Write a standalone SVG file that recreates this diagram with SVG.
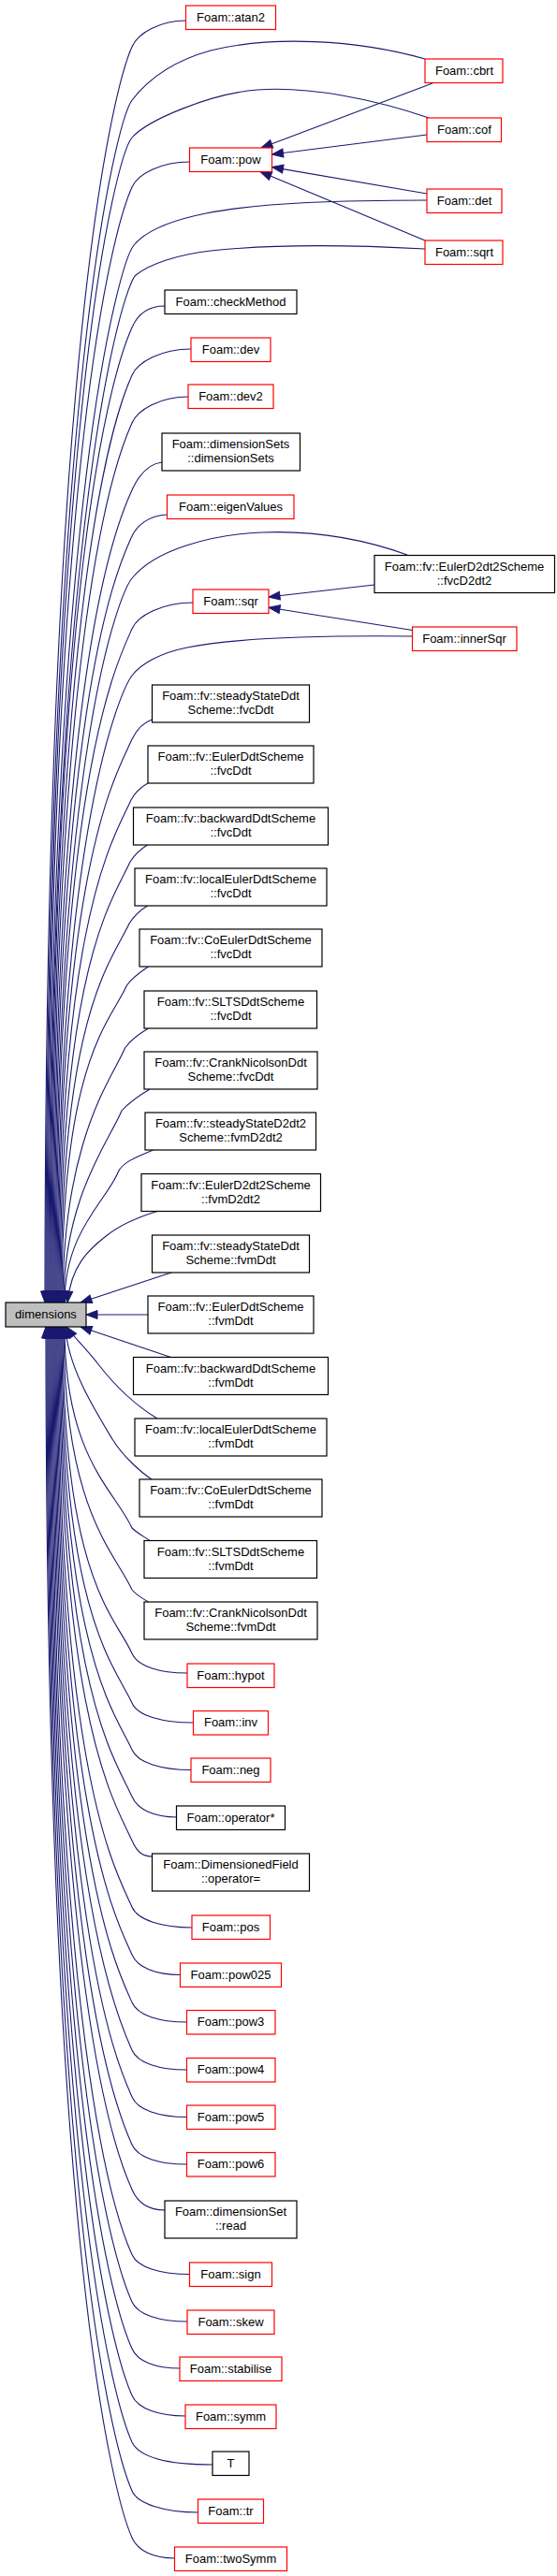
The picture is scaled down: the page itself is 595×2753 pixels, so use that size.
<svg xmlns="http://www.w3.org/2000/svg" width="595" height="2753" viewBox="0 0 595 2753">
<style>
.n rect{fill:#fff;stroke-width:1.2}
.r rect{stroke:#ff0000}
.b rect{stroke:#000}
.m rect{fill:#bfbfbf;stroke:#000}
text{font-family:"Liberation Sans",Arial,Helvetica,sans-serif;font-size:13px;text-anchor:middle;fill:#000}
#edges path{fill:none;stroke:#191970;stroke-width:1.1;marker-end:url(#ah)}
</style>
<defs>
<marker id="ah" markerUnits="userSpaceOnUse" markerWidth="14" markerHeight="12" viewBox="-13 -6 14 12" refX="0" refY="0" orient="auto">
<path d="M-12,-4.5 L0,0 L-12,4.5 Z" fill="#191970" stroke="#191970" stroke-width="1"/>
</marker>
</defs>
<rect x="0" y="0" width="595" height="2753" fill="#fff"/>
<g id="edges">
<path d="M198.5,22 C170,22 147,36 141,50 C123,90 48,359 48,1392"/>
<path d="M454,63 C380,42 290,38 225,54 C185,65 158,85 141,107 C125,130 49,403 49,1392"/>
<path d="M458,126 C400,106 330,92 275,96 C225,100 158,128 141,147 C125,166 50,433 50,1392"/>
<path d="M202.5,173 C172,173 147,186 141,200 C123,240 51,474 51,1392"/>
<path d="M456,214 C370,214 280,216 220,228 C185,235 157,245 143,262 C129,279 52,522 52,1392"/>
<path d="M454,266 C380,262 290,261 225,268 C190,272 160,282 145,294 C132,305 53,547 53,1392"/>
<path d="M176,327 C158,327 147,336 141,350 C123,390 54,590 54,1392"/>
<path d="M204,373 C172,373 147,387 141,401 C123,441 55,629 55,1392"/>
<path d="M201,424 C171,424 147,438 141,452 C123,492 56,668 56,1392"/>
<path d="M173,494 C156,496 146,512 140,526 C122,566 57,725 57,1392"/>
<path d="M178.5,550 C159,551 146,561 140,575 C122,615 58,763 58,1392"/>
<path d="M435,593 C385,575 330,567 280,569 C225,571 165,588 141,618 C128,634 59,796 59,1392"/>
<path d="M206,644 C173,644 147,658 141,672 C123,712 60,838 60,1392"/>
<path d="M440.5,680 C340,679 250,682 200,692 C170,698 150,710 141,722 C131,735 61,876 61,1392"/>
<path d="M162.5,769 C153,772 146,780 141,790 C123,830 62,928 62,1392"/>
<path d="M158,837 C151,841 144,847 140,855 C122,895 63,979 63,1392"/>
<path d="M157.5,903 C151,907 144,913 139,921 C121,961 64,1029 64,1392"/>
<path d="M157.5,968 C151,972 143,979 138,987 C120,1027 65,1080 65,1392"/>
<path d="M158.5,1033 C151,1038 141,1045 135.5,1053 C117.5,1093 66,1131 66,1392"/>
<path d="M158.5,1099 C150,1104 140,1111 133.5,1120 C121.5,1150 67,1215 67,1392"/>
<path d="M160,1164 C150,1170 138,1178 130,1187 C118,1217 68,1279 68,1392"/>
<path d="M163.5,1229 C150,1235 131,1241 126,1253 C114,1283 69,1316 69,1392"/>
<path d="M168,1294.5 C150,1300 130,1308 114.5,1320 C95,1335 76,1352 72,1392"/>
<path d="M183,1360 L86,1392"/>
<path d="M158,1405 L92,1405"/>
<path d="M182.5,1450.5 L86,1418"/>
<path d="M168,1516 C145,1502 122,1480 105,1458 C92,1441 78,1428 71,1418"/>
<path d="M162,1581 C150,1573 131,1556 120,1538 C100,1505 72,1460 70,1418"/>
<path d="M160,1646.5 C152,1641 146,1638 141,1633 C123,1593 69,1558 69,1418"/>
<path d="M158.5,1712 C152,1708 146,1705 141,1699 C123,1659 68,1615 68,1418"/>
<path d="M200,1788 C170.5,1788 147,1781 141,1767 C123,1727 67,1687 67,1418"/>
<path d="M206.5,1841 C174,1841 147,1834 141,1820 C123,1780 66,1727.5 66,1418"/>
<path d="M204,1891.5 C172.5,1891.5 147,1884 141,1870 C123,1830 65,1766 65,1418"/>
<path d="M188.5,1942 C165,1942 147,1934 141,1920 C123,1880 64,1804.5 64,1418"/>
<path d="M162.5,1984 C154,1984 147,1981 141,1967 C123,1927 63,1841 63,1418"/>
<path d="M205,2060 C173,2060 147,2052 141,2038 C123,1998 62,1895 62,1418"/>
<path d="M192.5,2110.5 C167,2110.5 147,2103 141,2089 C123,2049 61,1935 61,1418"/>
<path d="M199.5,2161 C170,2161 147,2154 141,2140 C123,2100 60,1974 60,1418"/>
<path d="M199.5,2212 C170,2212 147,2205 141,2191 C123,2151 59,2013 59,1418"/>
<path d="M199.5,2262.5 C170,2262.5 147,2255 141,2241 C123,2201 58,2052 58,1418"/>
<path d="M199.5,2313 C170,2313 147,2306 141,2292 C123,2252 57,2091 57,1418"/>
<path d="M176,2362 C158.5,2362 147,2354 141,2340 C123,2300 56,2128 56,1418"/>
<path d="M202.5,2430.5 C172,2430.5 147,2423.5 141,2409.5 C123,2369.5 55,2181.5 55,1418"/>
<path d="M200,2481 C170.5,2481 147,2474 141,2460 C123,2420 54,2220 54,1418"/>
<path d="M192,2531 C166.5,2531 147,2524 141,2510 C123,2470 53,2259 53,1418"/>
<path d="M198,2582 C169.5,2582 147,2574 141,2560 C123,2520 52,2297 52,1418"/>
<path d="M227,2634 C184,2634 150,2628 141,2610 C123,2570 51,2336 51,1418"/>
<path d="M211.5,2685 C176,2685 147,2676 141,2662 C123,2622 50,2376 50,1418"/>
<path d="M186.5,2734 C164,2734 147,2726 141,2712 C123,2672 49,2414 49,1418"/>
<path d="M462,89 L279,158"/>
<path d="M456,144 L290.5,165"/>
<path d="M456,207 L290.5,178.6"/>
<path d="M454,257 L278,183.5"/>
<path d="M400,625 L287,638"/>
<path d="M440.5,673.5 L287,649.2"/>
</g>
<g id="n_dimensions" class="n m"><rect x="6" y="1392" width="86" height="26"/><text x="49" y="1409.3">dimensions</text></g>
<g id="n_atan2" class="n r"><rect x="198.5" y="6" width="96" height="25.5"/><text x="246.5" y="22.7">Foam::atan2</text></g>
<g id="n_cbrt" class="n r"><rect x="454" y="63" width="83" height="25.5"/><text x="496" y="79.7">Foam::cbrt</text></g>
<g id="n_cof" class="n r"><rect x="456" y="126" width="79.5" height="25.5"/><text x="496" y="142.7">Foam::cof</text></g>
<g id="n_pow" class="n r"><rect x="202.5" y="158" width="88" height="25.5"/><text x="246.5" y="174.7">Foam::pow</text></g>
<g id="n_det" class="n r"><rect x="456" y="202" width="80" height="25.5"/><text x="496" y="218.7">Foam::det</text></g>
<g id="n_sqrt" class="n r"><rect x="454" y="257" width="83" height="25.5"/><text x="496" y="273.7">Foam::sqrt</text></g>
<g id="n_checkMethod" class="n b"><rect x="176" y="310" width="141" height="25.5"/><text x="246.5" y="326.7">Foam::checkMethod</text></g>
<g id="n_dev" class="n r"><rect x="204" y="361" width="85" height="25.5"/><text x="246.5" y="377.7">Foam::dev</text></g>
<g id="n_dev2" class="n r"><rect x="201" y="411" width="91" height="25.5"/><text x="246.5" y="427.7">Foam::dev2</text></g>
<g id="n_dimensionSets" class="n b"><rect x="173" y="463" width="147.5" height="40"/><text x="246.5" y="479.3">Foam::dimensionSets</text><text x="246.5" y="494.3">::dimensionSets</text></g>
<g id="n_eigenValues" class="n r"><rect x="178.5" y="529" width="135.5" height="25.5"/><text x="246.5" y="545.7">Foam::eigenValues</text></g>
<g id="n_fvcD2dt2" class="n b"><rect x="400" y="593.5" width="192.5" height="40"/><text x="496" y="609.8">Foam::fv::EulerD2dt2Scheme</text><text x="496" y="624.8">::fvcD2dt2</text></g>
<g id="n_sqr" class="n r"><rect x="206" y="630" width="81" height="25.5"/><text x="246.5" y="646.7">Foam::sqr</text></g>
<g id="n_innerSqr" class="n r"><rect x="440.5" y="670" width="111.5" height="25.5"/><text x="496" y="686.7">Foam::innerSqr</text></g>
<g id="n_ssDdt_fvc" class="n b"><rect x="162.5" y="732" width="168" height="40"/><text x="246.5" y="748.3">Foam::fv::steadyStateDdt</text><text x="246.5" y="763.3">Scheme::fvcDdt</text></g>
<g id="n_Euler_fvc" class="n b"><rect x="158" y="797" width="177" height="40"/><text x="246.5" y="813.3">Foam::fv::EulerDdtScheme</text><text x="246.5" y="828.3">::fvcDdt</text></g>
<g id="n_backward_fvc" class="n b"><rect x="142.5" y="863" width="208" height="40"/><text x="246.5" y="879.3">Foam::fv::backwardDdtScheme</text><text x="246.5" y="894.3">::fvcDdt</text></g>
<g id="n_localEuler_fvc" class="n b"><rect x="144" y="928" width="205" height="40"/><text x="246.5" y="944.3">Foam::fv::localEulerDdtScheme</text><text x="246.5" y="959.3">::fvcDdt</text></g>
<g id="n_CoEuler_fvc" class="n b"><rect x="149" y="993" width="195" height="40"/><text x="246.5" y="1009.3">Foam::fv::CoEulerDdtScheme</text><text x="246.5" y="1024.3">::fvcDdt</text></g>
<g id="n_SLTS_fvc" class="n b"><rect x="154" y="1059" width="184.5" height="40"/><text x="246.5" y="1075.3">Foam::fv::SLTSDdtScheme</text><text x="246.5" y="1090.3">::fvcDdt</text></g>
<g id="n_Crank_fvc" class="n b"><rect x="154" y="1124" width="185" height="40"/><text x="246.5" y="1140.3">Foam::fv::CrankNicolsonDdt</text><text x="246.5" y="1155.3">Scheme::fvcDdt</text></g>
<g id="n_ssD2_fvm" class="n b"><rect x="155" y="1189" width="182.5" height="40"/><text x="246.5" y="1205.3">Foam::fv::steadyStateD2dt2</text><text x="246.5" y="1220.3">Scheme::fvmD2dt2</text></g>
<g id="n_EulerD2_fvm" class="n b"><rect x="151" y="1254.5" width="191.5" height="40"/><text x="246.5" y="1270.8">Foam::fv::EulerD2dt2Scheme</text><text x="246.5" y="1285.8">::fvmD2dt2</text></g>
<g id="n_ssDdt_fvm" class="n b"><rect x="162.5" y="1320" width="168" height="40"/><text x="246.5" y="1336.3">Foam::fv::steadyStateDdt</text><text x="246.5" y="1351.3">Scheme::fvmDdt</text></g>
<g id="n_Euler_fvm" class="n b"><rect x="158" y="1385" width="177" height="40"/><text x="246.5" y="1401.3">Foam::fv::EulerDdtScheme</text><text x="246.5" y="1416.3">::fvmDdt</text></g>
<g id="n_backward_fvm" class="n b"><rect x="142.5" y="1450.5" width="208" height="40"/><text x="246.5" y="1466.8">Foam::fv::backwardDdtScheme</text><text x="246.5" y="1481.8">::fvmDdt</text></g>
<g id="n_localEuler_fvm" class="n b"><rect x="144" y="1516" width="205" height="40"/><text x="246.5" y="1532.3">Foam::fv::localEulerDdtScheme</text><text x="246.5" y="1547.3">::fvmDdt</text></g>
<g id="n_CoEuler_fvm" class="n b"><rect x="149" y="1581" width="195" height="40"/><text x="246.5" y="1597.3">Foam::fv::CoEulerDdtScheme</text><text x="246.5" y="1612.3">::fvmDdt</text></g>
<g id="n_SLTS_fvm" class="n b"><rect x="154" y="1646.5" width="184.5" height="40"/><text x="246.5" y="1662.8">Foam::fv::SLTSDdtScheme</text><text x="246.5" y="1677.8">::fvmDdt</text></g>
<g id="n_Crank_fvm" class="n b"><rect x="154" y="1712" width="185" height="40"/><text x="246.5" y="1728.3">Foam::fv::CrankNicolsonDdt</text><text x="246.5" y="1743.3">Scheme::fvmDdt</text></g>
<g id="n_hypot" class="n r"><rect x="200" y="1778" width="93" height="25.5"/><text x="246.5" y="1794.7">Foam::hypot</text></g>
<g id="n_inv" class="n r"><rect x="206.5" y="1828.5" width="80" height="25.5"/><text x="246.5" y="1845.2">Foam::inv</text></g>
<g id="n_neg" class="n r"><rect x="204" y="1879" width="85" height="25.5"/><text x="246.5" y="1895.7">Foam::neg</text></g>
<g id="n_operatorMul" class="n b"><rect x="188.5" y="1930" width="116" height="25.5"/><text x="246.5" y="1946.7">Foam::operator*</text></g>
<g id="n_DimField" class="n b"><rect x="162.5" y="1981" width="168" height="40"/><text x="246.5" y="1997.3">Foam::DimensionedField</text><text x="246.5" y="2012.3">::operator=</text></g>
<g id="n_pos" class="n r"><rect x="205" y="2047" width="83.5" height="25.5"/><text x="246.5" y="2063.7">Foam::pos</text></g>
<g id="n_pow025" class="n r"><rect x="192.5" y="2098" width="108" height="25.5"/><text x="246.5" y="2114.7">Foam::pow025</text></g>
<g id="n_pow3" class="n r"><rect x="199.5" y="2148.5" width="94.5" height="25.5"/><text x="246.5" y="2165.2">Foam::pow3</text></g>
<g id="n_pow4" class="n r"><rect x="199.5" y="2199.5" width="94.5" height="25.5"/><text x="246.5" y="2216.2">Foam::pow4</text></g>
<g id="n_pow5" class="n r"><rect x="199.5" y="2250" width="94.5" height="25.5"/><text x="246.5" y="2266.7">Foam::pow5</text></g>
<g id="n_pow6" class="n r"><rect x="199.5" y="2300.5" width="94.5" height="25.5"/><text x="246.5" y="2317.2">Foam::pow6</text></g>
<g id="n_read" class="n b"><rect x="176" y="2352" width="141" height="40"/><text x="246.5" y="2368.3">Foam::dimensionSet</text><text x="246.5" y="2383.3">::read</text></g>
<g id="n_sign" class="n r"><rect x="202.5" y="2418" width="88" height="25.5"/><text x="246.5" y="2434.7">Foam::sign</text></g>
<g id="n_skew" class="n r"><rect x="200" y="2469" width="93" height="25.5"/><text x="246.5" y="2485.7">Foam::skew</text></g>
<g id="n_stabilise" class="n r"><rect x="192" y="2519" width="109" height="25.5"/><text x="246.5" y="2535.7">Foam::stabilise</text></g>
<g id="n_symm" class="n r"><rect x="198" y="2570" width="97" height="25.5"/><text x="246.5" y="2586.7">Foam::symm</text></g>
<g id="n_T" class="n b"><rect x="227" y="2620" width="39" height="25.5"/><text x="246.5" y="2636.7">T</text></g>
<g id="n_tr" class="n r"><rect x="211.5" y="2671" width="70" height="25.5"/><text x="246.5" y="2687.7">Foam::tr</text></g>
<g id="n_twoSymm" class="n r"><rect x="186.5" y="2722" width="120" height="25.5"/><text x="246.5" y="2738.7">Foam::twoSymm</text></g>
</svg>
